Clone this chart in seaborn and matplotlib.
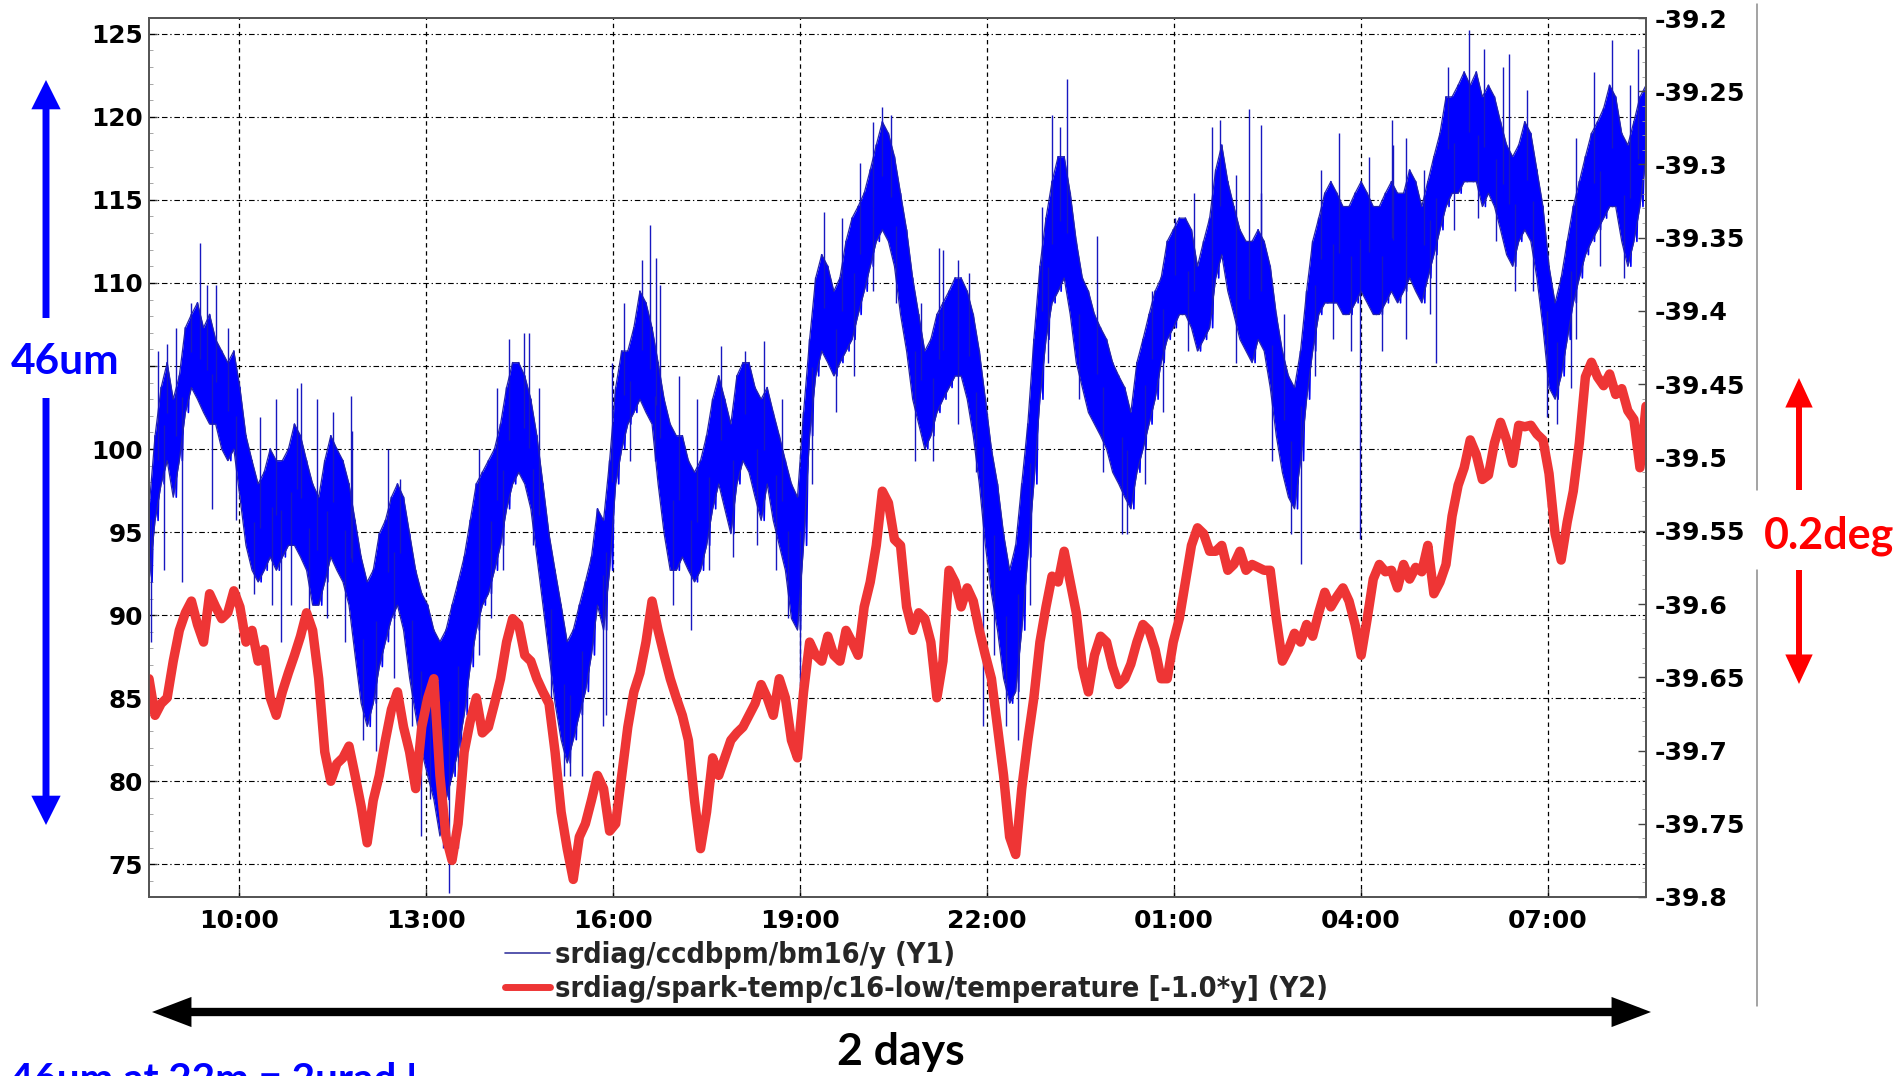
import numpy as np
import matplotlib
matplotlib.use("Agg")
import matplotlib.pyplot as plt
import seaborn as sns
from matplotlib.lines import Line2D
from matplotlib.patches import FancyArrowPatch
from matplotlib.ticker import FixedLocator, FixedFormatter, MultipleLocator
from matplotlib.font_manager import FontProperties

# ---------------- data ----------------
# regular sampling: hours since midnight of day 1, one sample every ~5.8 min
t_start = 8.562
t_step = 0.0972

x_ticks = [10, 13, 16, 19, 22, 25, 28, 31]
x_tick_labels = ["10:00", "13:00", "16:00", "19:00", "22:00", "01:00", "04:00", "07:00"]
y1_ticks = [75, 80, 85, 90, 95, 100, 105, 110, 115, 120, 125]
# the 105 label is hidden behind the "46um" annotation in the reference
y1_tick_labels = ["75", "80", "85", "90", "95", "100", "", "110", "115", "120", "125"]
y2_ticks = [-39.8, -39.75, -39.7, -39.65, -39.6, -39.55, -39.5, -39.45, -39.4,
            -39.35, -39.3, -39.25, -39.2]
y2_tick_labels = ["-39.8", "-39.75", "-39.7", "-39.65", "-39.6", "-39.55", "-39.5",
                  "-39.45", "-39.4", "-39.35", "-39.3", "-39.25", "-39.2"]

# BPM y position (um): upper / lower edge of the dense noise band
bpm_hi = [96.4, 100.8, 103.7, 105.2, 103.0, 104.4, 107.3, 108.1, 108.8, 107.3,
          108.1, 106.6, 105.9, 105.2, 105.9, 103.7, 100.8, 99.3, 97.9, 98.6,
          100.0, 99.3, 99.3, 100.0, 101.5, 100.8, 99.3, 97.9, 97.1, 99.3,
          100.8, 100.0, 99.3, 97.9, 95.7, 93.5, 92.0, 92.7, 94.9, 95.7,
          97.1, 97.9, 97.1, 94.9, 92.7, 91.3, 90.6, 89.1, 88.4, 89.1,
          90.6, 92.0, 93.5, 95.7, 97.9, 98.6, 99.3, 100.0, 101.5, 103.7,
          105.2, 105.2, 104.4, 103.0, 100.8, 97.9, 94.9, 92.7, 90.6, 88.4,
          89.1, 90.6, 92.0, 93.5, 96.4, 95.7, 99.3, 103.7, 105.9, 105.9,
          107.3, 109.5, 108.8, 107.3, 105.2, 103.0, 101.5, 100.8, 100.8, 99.3,
          98.6, 99.3, 100.8, 103.0, 104.4, 103.0, 101.5, 104.4, 105.2, 105.2,
          103.7, 103.0, 103.7, 102.2, 100.8, 99.3, 97.9, 97.1, 102.2, 106.6,
          110.3, 111.7, 111.0, 109.5, 110.3, 112.5, 113.9, 114.6, 115.4, 116.8,
          118.3, 119.7, 119.0, 117.6, 115.4, 113.2, 110.3, 108.1, 105.9, 106.6,
          108.1, 108.8, 109.5, 110.3, 110.3, 109.5, 108.1, 105.9, 103.0, 100.0,
          97.9, 94.9, 92.7, 94.2, 97.9, 101.5, 106.6, 111.0, 113.9, 116.1,
          117.6, 117.6, 115.4, 112.5, 110.3, 109.5, 108.1, 107.3, 106.6, 105.2,
          104.4, 103.7, 102.2, 105.2, 106.6, 108.1, 109.5, 110.3, 112.5, 113.2,
          113.9, 113.9, 113.2, 111.0, 112.5, 113.9, 116.8, 118.3, 116.1, 114.6,
          113.2, 112.5, 112.5, 113.2, 112.5, 111.0, 108.1, 105.9, 104.4, 103.7,
          105.9, 109.5, 112.5, 113.9, 115.4, 116.1, 115.4, 114.6, 114.6, 115.4,
          116.1, 115.4, 114.6, 114.6, 115.4, 116.1, 115.4, 115.4, 116.8, 116.1,
          114.6, 116.1, 117.6, 119.0, 121.2, 121.2, 121.9, 122.7, 121.9, 122.7,
          121.2, 121.9, 121.2, 119.7, 118.3, 117.6, 118.3, 119.7, 119.0, 116.8,
          114.6, 111.0, 108.8, 110.3, 112.5, 114.6, 116.1, 117.6, 119.0, 119.7,
          120.5, 121.9, 121.2, 119.0, 118.3, 119.7, 121.2, 121.9]
bpm_lo = [92.0, 95.7, 97.9, 99.3, 97.1, 99.3, 102.2, 103.7, 103.0, 102.2,
          101.5, 101.5, 100.0, 99.3, 100.0, 97.1, 94.2, 92.7, 92.0, 92.7,
          93.5, 92.7, 93.5, 94.2, 94.2, 93.5, 92.7, 90.6, 90.6, 92.0,
          93.5, 92.7, 92.0, 90.6, 87.6, 84.7, 83.3, 84.7, 86.9, 88.4,
          89.8, 90.6, 89.1, 86.2, 84.0, 81.8, 80.3, 78.9, 76.7, 78.9,
          80.3, 81.8, 84.0, 86.9, 89.1, 90.6, 91.3, 92.7, 94.2, 96.4,
          97.9, 98.6, 97.9, 96.4, 93.5, 90.6, 87.6, 84.7, 82.5, 81.1,
          82.5, 84.0, 85.4, 87.6, 90.6, 89.1, 92.7, 97.9, 100.0, 101.5,
          102.2, 103.0, 102.2, 101.5, 97.9, 94.9, 92.7, 92.7, 93.5, 92.7,
          92.0, 92.7, 94.2, 96.4, 97.9, 96.4, 94.9, 97.9, 99.3, 98.6,
          97.1, 95.7, 97.9, 95.7, 94.2, 92.7, 89.8, 89.1, 94.2, 100.8,
          104.4, 105.9, 105.2, 104.4, 105.2, 105.9, 106.6, 108.1, 109.5, 111.0,
          112.5, 113.2, 112.5, 111.0, 108.1, 105.9, 103.0, 101.5, 100.0, 100.8,
          102.2, 103.0, 103.7, 104.4, 104.4, 103.0, 100.8, 97.9, 94.2, 91.3,
          89.1, 86.2, 84.7, 85.4, 89.1, 93.5, 97.9, 103.0, 106.6, 108.8,
          109.5, 110.3, 108.1, 105.2, 103.7, 102.2, 101.5, 100.8, 100.0, 98.6,
          97.9, 97.1, 96.4, 98.6, 100.0, 101.5, 103.0, 105.2, 106.6, 107.3,
          108.1, 108.1, 107.3, 105.9, 106.6, 107.3, 110.3, 111.7, 109.5, 108.1,
          106.6, 105.9, 105.2, 106.6, 105.9, 103.7, 100.8, 98.6, 97.1, 96.4,
          99.3, 103.0, 105.9, 108.1, 108.8, 108.8, 108.8, 108.1, 108.1, 108.8,
          109.5, 108.8, 108.1, 108.1, 108.8, 109.5, 108.8, 109.5, 110.3, 109.5,
          108.8, 110.3, 111.7, 113.2, 114.6, 115.4, 115.4, 116.1, 116.1, 116.1,
          114.6, 115.4, 114.6, 113.2, 111.7, 111.0, 112.5, 113.2, 112.5, 110.3,
          107.3, 103.7, 103.0, 104.4, 106.6, 108.8, 110.3, 111.7, 112.5, 113.2,
          113.9, 114.6, 114.6, 112.5, 111.0, 112.5, 114.6, 117.6]

# isolated spikes of the BPM signal beyond the dense band: time (h) and tip value (um)
spike_time = [8.85, 9.38, 9.50, 11.0, 11.8, 14.66, 16.59, 16.69, 18.42, 20.32,
              21.3, 23.04, 23.28, 25.74, 26.21, 26.4, 28.5, 29.73, 30.37, 32.02,
              32.45,
              8.60, 9.09, 10.68, 12.0, 12.93, 13.38, 13.52, 15.50, 15.85, 19.0,
              21.93, 22.50, 24.17, 27.03, 27.98, 29.2, 30.99, 31.36,
              8.70, 8.99, 9.24, 9.63, 9.83, 10.35, 10.60, 10.93, 11.26, 11.52,
              11.81, 12.39, 12.59, 13.85, 14.14, 14.33, 14.57, 14.82, 15.99, 16.18,
              16.47, 16.76, 17.06, 17.35, 17.74, 18.12, 18.71, 19.39, 19.68, 19.97,
              20.17, 20.46, 20.94, 21.23, 21.53, 21.72, 22.89, 23.18, 23.76, 24.64,
              25.02, 25.32, 25.61, 26.00, 26.39, 26.77, 27.36, 27.65, 28.13, 28.52,
              28.72, 29.01, 29.40, 29.98, 30.27, 30.66, 31.44, 31.73, 32.31,
              8.80, 9.57, 9.96, 10.25, 10.54, 10.84, 11.13, 11.42, 11.71, 12.20,
              12.49, 12.78, 13.07, 13.27, 13.85, 14.04, 14.24, 14.72, 15.01, 15.21,
              15.31, 15.89, 16.28, 16.67, 16.96, 17.25, 17.54, 17.93, 18.32, 18.61,
              18.81, 19.19, 19.58, 19.87, 20.17, 20.55, 20.85, 21.14, 21.53, 21.82,
              22.11, 22.30, 22.69, 22.98, 23.47, 23.86, 24.25, 24.54, 24.83, 25.22,
              25.61, 26.00, 26.58, 26.87, 27.26, 27.55, 27.84, 28.33, 28.72, 29.11,
              29.49, 29.88, 30.17, 30.47, 30.76, 31.15, 31.44, 31.83, 32.22]
spike_value = [106.3, 112.4, 109.9, 104.0, 103.2, 107.0, 113.5, 111.5, 106.5, 120.6,
               112.0, 120.1, 122.3, 119.8, 120.5, 119.5, 119.8, 125.2, 123.8, 124.6,
               124.1,
               88.4, 92.0, 88.4, 82.5, 76.7, 73.3, 76.0, 80.3, 83.3, 83.3,
               83.3, 82.5, 94.9, 93.1, 94.6, 105.2, 101.9, 103.7,
               105.9, 107.3, 108.8, 109.9, 107.3, 101.9, 103.0, 103.7, 103.0, 102.2,
               101.1, 100.0, 98.2, 100.0, 103.7, 106.6, 107.0, 103.7, 105.2, 108.8,
               111.4, 109.9, 104.4, 103.0, 106.2, 105.9, 103.0, 114.3, 113.9, 117.2,
               119.7, 120.1, 108.8, 112.1, 111.4, 110.6, 114.6, 119.4, 112.8, 109.5,
               113.9, 115.4, 119.4, 116.5, 115.4, 108.1, 116.8, 119.0, 117.6, 118.3,
               118.7, 116.8, 123.0, 124.1, 123.0, 121.6, 118.7, 122.7, 121.9,
               92.7, 96.4, 95.7, 91.3, 90.6, 90.6, 89.1, 89.8, 88.4, 81.8,
               86.2, 83.3, 78.9, 76.0, 87.6, 89.8, 92.7, 94.2, 84.7, 80.3,
               80.3, 84.0, 99.3, 99.3, 90.6, 89.1, 92.7, 93.5, 94.2, 92.7,
               89.8, 97.9, 102.2, 104.4, 109.5, 108.8, 99.3, 99.3, 101.5, 98.6,
               87.6, 83.3, 90.6, 105.2, 103.0, 98.6, 94.9, 97.9, 102.2, 105.9,
               108.1, 105.2, 99.3, 94.9, 104.4, 106.6, 105.9, 105.9, 106.6, 108.1,
               113.2, 113.9, 112.5, 109.5, 109.5, 101.5, 106.6, 111.0, 110.3]

# spark temperature, plotted as -1.0*T (deg C) on the right axis
temp_neg = [-39.651, -39.676, -39.668, -39.664, -39.639, -39.618, -39.606, -39.598, -39.614, -39.626,
            -39.593, -39.602, -39.610, -39.606, -39.591, -39.602, -39.626, -39.618, -39.639, -39.631,
            -39.664, -39.676, -39.660, -39.647, -39.635, -39.622, -39.606, -39.618, -39.651, -39.701,
            -39.721, -39.709, -39.705, -39.697, -39.717, -39.738, -39.763, -39.734, -39.717, -39.693,
            -39.672, -39.660, -39.684, -39.701, -39.726, -39.684, -39.664, -39.651, -39.717, -39.759,
            -39.775, -39.750, -39.701, -39.680, -39.664, -39.688, -39.684, -39.668, -39.651, -39.626,
            -39.610, -39.614, -39.635, -39.639, -39.651, -39.660, -39.668, -39.701, -39.742, -39.767,
            -39.788, -39.759, -39.750, -39.734, -39.717, -39.726, -39.755, -39.750, -39.717, -39.684,
            -39.660, -39.647, -39.626, -39.598, -39.618, -39.635, -39.651, -39.664, -39.676, -39.693,
            -39.734, -39.767, -39.742, -39.705, -39.717, -39.705, -39.693, -39.688, -39.684, -39.676,
            -39.668, -39.655, -39.664, -39.676, -39.651, -39.664, -39.693, -39.705, -39.660, -39.626,
            -39.635, -39.639, -39.622, -39.635, -39.639, -39.618, -39.626, -39.635, -39.602, -39.585,
            -39.560, -39.523, -39.531, -39.556, -39.560, -39.602, -39.618, -39.606, -39.610, -39.626,
            -39.664, -39.639, -39.577, -39.585, -39.602, -39.589, -39.598, -39.618, -39.635, -39.651,
            -39.684, -39.717, -39.759, -39.771, -39.726, -39.693, -39.664, -39.626, -39.602, -39.581,
            -39.585, -39.564, -39.585, -39.606, -39.643, -39.660, -39.635, -39.622, -39.626, -39.643,
            -39.655, -39.651, -39.641, -39.626, -39.614, -39.618, -39.631, -39.651, -39.651, -39.626,
            -39.610, -39.585, -39.560, -39.548, -39.552, -39.564, -39.564, -39.560, -39.577, -39.573,
            -39.564, -39.577, -39.573, -39.575, -39.577, -39.577, -39.610, -39.639, -39.631, -39.620,
            -39.626, -39.614, -39.622, -39.606, -39.592, -39.602, -39.595, -39.589, -39.598, -39.614,
            -39.635, -39.610, -39.583, -39.573, -39.578, -39.577, -39.589, -39.573, -39.583, -39.575,
            -39.578, -39.560, -39.593, -39.585, -39.573, -39.540, -39.519, -39.507, -39.488, -39.498,
            -39.515, -39.512, -39.490, -39.476, -39.488, -39.504, -39.478, -39.479, -39.478, -39.484,
            -39.488, -39.511, -39.552, -39.570, -39.544, -39.523, -39.490, -39.445, -39.435, -39.445,
            -39.451, -39.443, -39.457, -39.453, -39.468, -39.474, -39.507, -39.465]

legend_labels = ["srdiag/ccdbpm/bm16/y (Y1)",
                 "srdiag/spark-temp/c16-low/temperature [-1.0*y] (Y2)"]

# ---------------- styling ----------------
W, H = 1901, 1076
BLUE = "#0000ff"
NAVY = "#2626a8"
RED = "#ee3535"

sns.set_theme(style="white")
plt.rcParams["font.family"] = ["DejaVu Sans"]
plt.rcParams["axes.unicode_minus"] = False

fig = plt.figure(figsize=(W / 100, H / 100), dpi=100, facecolor="white")
ax = fig.add_axes([149 / W, 1 - 897 / H, (1646 - 149) / W, (897 - 18) / H])
ax.set_facecolor("white")

n = len(bpm_hi)
t = t_start + t_step * np.arange(n)
hi = np.asarray(bpm_hi)
lo = np.asarray(bpm_lo)

# dense noise band of the BPM signal
ax.fill_between(t, lo, hi, color=BLUE, lw=0, zorder=2)
zz_t = np.column_stack([t, t + t_step / 2]).ravel()
zz_v = np.column_stack([hi, lo]).ravel()
sns.lineplot(x=zz_t, y=zz_v, ax=ax, color=BLUE, lw=1.2, estimator=None, sort=False,
             legend=False, zorder=2)
sns.lineplot(x=t, y=hi, ax=ax, color=NAVY, lw=0.9, estimator=None, sort=False,
             legend=False, zorder=2)
sns.lineplot(x=t, y=lo, ax=ax, color=NAVY, lw=0.9, estimator=None, sort=False,
             legend=False, zorder=2)
# spikes, drawn from the band centre to their tip
sp_t = np.asarray(spike_time)
sp_base = np.interp(sp_t, t, (hi + lo) / 2)
ax.vlines(sp_t, sp_base, spike_value, color="#1818c0", lw=1.0, zorder=2)

ax.set_xlim(t_start, t_start + t_step * (n - 1))
ax.set_ylim(73.03, 125.95)
ax.xaxis.set_major_locator(FixedLocator(x_ticks))
ax.xaxis.set_major_formatter(FixedFormatter(x_tick_labels))
ax.yaxis.set_major_locator(FixedLocator(y1_ticks))
ax.yaxis.set_major_formatter(FixedFormatter(y1_tick_labels))
ax.yaxis.set_minor_locator(MultipleLocator(1))
ax.set_xlabel("")
ax.set_ylabel("")

ax.grid(False)
for yv in y1_ticks:
    ax.axhline(yv, color="black", lw=0.8, ls=(0, (5, 2.5, 1.2, 2.5)), zorder=1)
for xv in x_ticks:
    ax.axvline(xv, color="black", lw=0.9, ls=(0, (3.5, 3)), zorder=1)

# right axis: temperature
ax2 = ax.twinx()
sns.lineplot(x=t, y=temp_neg, ax=ax2, color=RED, lw=6.8, estimator=None, sort=False,
             legend=False)
ax2.set_ylim(-39.8, -39.2)
ax2.yaxis.set_major_locator(FixedLocator(y2_ticks))
ax2.yaxis.set_major_formatter(FixedFormatter(y2_tick_labels))
ax2.yaxis.set_minor_locator(MultipleLocator(0.01))
ax2.set_ylabel("")
ax2.set_xlabel("")
ax2.grid(False)

for a in (ax, ax2):
    for s in a.spines.values():
        s.set_color("#555555")
        s.set_linewidth(1.3)

ax.tick_params(axis="y", which="major", direction="in", length=6, width=1,
               colors="#444444", labelcolor="black", labelsize=17.8, pad=4.5, left=True)
ax.tick_params(axis="y", which="minor", direction="in", length=3, width=0.6,
               colors="#999999", left=True)
ax.tick_params(axis="x", which="major", direction="in", length=6, width=1,
               colors="#444444", labelcolor="black", labelsize=18, pad=9, bottom=True)
ax2.tick_params(axis="y", which="major", direction="in", length=6, width=1,
                colors="#444444", labelcolor="black", labelsize=18.2, pad=6.5, right=True)
ax2.tick_params(axis="y", which="minor", direction="in", length=3, width=0.6,
                colors="#999999", right=True)
for lab in ax.get_xticklabels() + ax.get_yticklabels() + ax2.get_yticklabels():
    lab.set_fontweight("bold")

# legend under the plot
handles = [Line2D([], [], color="#3a3aa0", lw=1.2),
           Line2D([], [], color=RED, lw=5.0)]
leg_font = FontProperties(family="DejaVu Sans", weight="bold", stretch="condensed", size=20.7)
fig.legend(handles, legend_labels, loc="upper left",
           bbox_to_anchor=(505 / W, 1 - 941 / H), frameon=False, prop=leg_font,
           handlelength=1.58, handletextpad=0.17, labelspacing=0.2,
           borderpad=0, borderaxespad=0)


# ---------------- annotations ----------------
def farrow(x0, y0, x1, y1, color, lw, hl, hw, style="-|>"):
    p = FancyArrowPatch((x0 / W, 1 - y0 / H), (x1 / W, 1 - y1 / H),
                        transform=fig.transFigure,
                        arrowstyle=f"{style},head_length={hl},head_width={hw}",
                        mutation_scale=1, color=color, lw=lw,
                        shrinkA=0, shrinkB=0, joinstyle="miter", capstyle="butt")
    fig.add_artist(p)


farrow(46, 318, 46, 80, BLUE, 5.0, 13, 6.5)
farrow(46, 398, 46, 825, BLUE, 5.0, 13, 6.5)
fig.text(65 / W, 1 - 374 / H, "46um", color=BLUE, fontsize=30.5, fontweight="bold",
         family=["Lato", "DejaVu Sans"], ha="center", va="baseline")

farrow(1799, 490, 1799, 378, "#ff0000", 4.3, 14, 6.5)
farrow(1799, 570, 1799, 684, "#ff0000", 4.3, 14, 6.5)
fig.text(1829 / W, 1 - 548 / H, "0.2deg", color="#ff0000", fontsize=31, fontweight="bold",
         family=["Lato", "DejaVu Sans"], ha="center", va="baseline")

fig.add_artist(Line2D([1757 / W, 1757 / W], [1 - 4 / H, 1 - 490 / H],
                      transform=fig.transFigure, color="#8a8a8a", lw=1.1))
fig.add_artist(Line2D([1757 / W, 1757 / W], [1 - 570 / H, 1 - 1006 / H],
                      transform=fig.transFigure, color="#8a8a8a", lw=1.1))

farrow(152, 1012, 1651, 1012, "black", 6.0, 17, 6.5, style="<|-|>")
fig.text(901 / W, 1 - 1065 / H, "2 days", color="black", fontsize=32, fontweight="bold",
         family=["Lato", "DejaVu Sans"], ha="center", va="baseline")
fig.text(10 / W, 1 - 1092 / H, "46um at 22m = 2urad !", color=BLUE, fontsize=29,
         fontweight="bold", family=["Lato", "DejaVu Sans"], ha="left", va="baseline")

fig.savefig("out.png", dpi=100, facecolor="white")
